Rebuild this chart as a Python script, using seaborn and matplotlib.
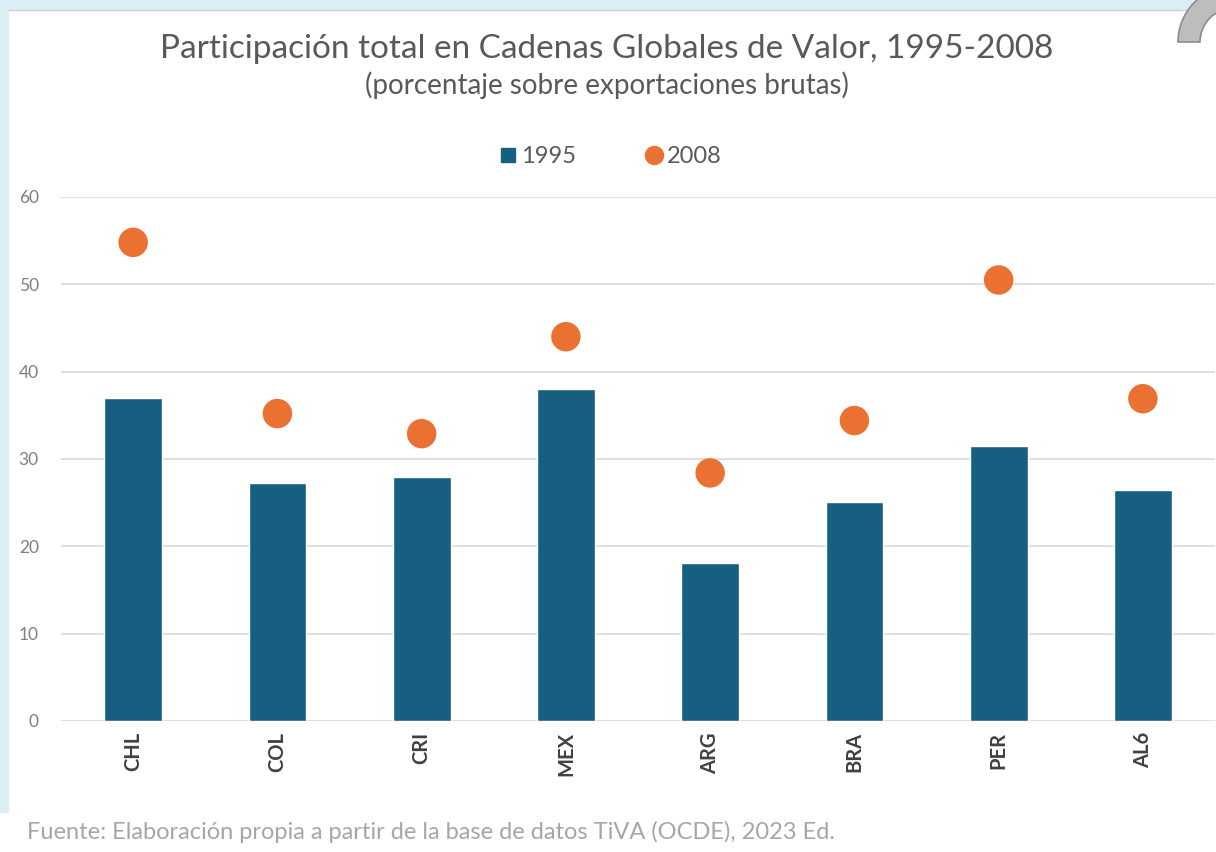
import matplotlib
matplotlib.use("Agg")
import matplotlib.pyplot as plt
import matplotlib.patches as mpatches
from matplotlib.lines import Line2D
import seaborn as sns

# Datos
paises = ["CHL", "COL", "CRI", "MEX", "ARG", "BRA", "PER", "AL6"]
v1995 = [37.0, 27.3, 27.9, 38.0, 18.1, 25.1, 31.5, 26.5]
v2008 = [54.8, 35.2, 32.9, 44.0, 28.4, 34.4, 50.5, 36.9]

azul = "#175f80"
naranja = "#eb7132"

sns.set_theme(style="white")
plt.rcParams["font.family"] = ["Lato", "DejaVu Sans"]

fig = plt.figure(figsize=(12.16, 8.52), dpi=100)
fig.patch.set_facecolor("white")

# marco celeste de fondo
fig.patches.append(mpatches.Rectangle((0, 0.047), 0.0065, 0.953, transform=fig.transFigure,
                                      color="#daeef5", zorder=0))
fig.patches.append(mpatches.Rectangle((0, 0.988), 1, 0.012, transform=fig.transFigure,
                                      color="#daeef5", zorder=0))
fig.lines.append(Line2D([0.0065, 1], [0.988, 0.988], transform=fig.transFigure,
                        color="#d0d0d0", lw=1))
# adorno gris arriba a la derecha
fig.patches.append(mpatches.Wedge((12.34, 8.10), 0.56, 90, 180, width=0.22,
                                  transform=fig.dpi_scale_trans, facecolor="#bdbdbd",
                                  edgecolor="#8c8c8c", lw=1.2, zorder=5))

ax = fig.add_axes([0.0502, 0.1538, 0.9490, 0.6150])

sns.barplot(x=paises, y=v1995, color=azul, width=0.4, saturation=1, ax=ax, zorder=2)
sns.scatterplot(x=paises, y=v2008, color=naranja, s=450, edgecolor="none", ax=ax, zorder=3)

ax.set_xlim(-0.5, 7.5)
ax.set_ylim(0, 60)
ax.set_yticks(range(0, 61, 10))
ax.yaxis.grid(True, color="#d9d9d9", lw=1.2)
ax.set_axisbelow(True)
for s in ax.spines.values():
    s.set_visible(False)
ax.tick_params(axis="y", length=0, pad=16, labelsize=12.5, labelcolor="#7f7f7f")
ax.tick_params(axis="x", length=0, pad=8, labelsize=14.5, labelcolor="#404040")
for lab in ax.get_xticklabels():
    lab.set_rotation(90)
    lab.set_fontweight("bold")
    lab.set_va("top")

fig.text(0.499, 0.943, "Participación total en Cadenas Globales de Valor, 1995-2008",
         ha="center", va="center", fontsize=24, color="#595959")
fig.text(0.499, 0.900, "(porcentaje sobre exportaciones brutas)",
         ha="center", va="center", fontsize=20, color="#595959")

handles = [Line2D([], [], marker="s", ls="none", color=azul, markersize=10),
           Line2D([], [], marker="o", ls="none", color=naranja, markersize=13)]
fig.legend(handles, ["1995", "2008"], loc="center", bbox_to_anchor=(0.496, 0.816),
           ncol=2, frameon=False, fontsize=17, handletextpad=-0.45, columnspacing=2.3,
           labelcolor="#595959")

fig.text(0.022, 0.023, "Fuente: Elaboración propia a partir de la base de datos TiVA (OCDE), 2023 Ed.",
         ha="left", va="center", fontsize=17, color="#a6a6a6")

fig.savefig("out.png", dpi=100)
